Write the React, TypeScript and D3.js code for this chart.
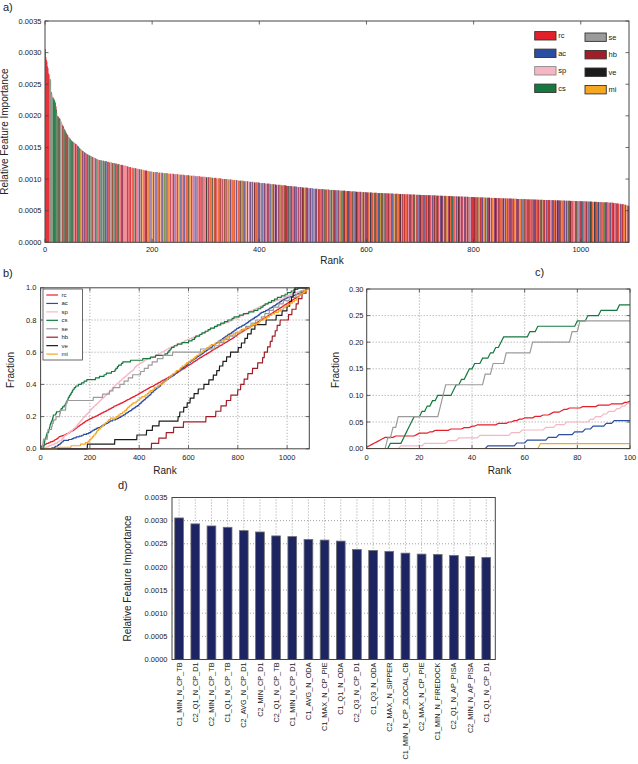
import React from "react";
import * as d3 from "d3";

// ---------------- DATA ----------------
const categories = ["rc", "ac", "sp", "cs", "se", "hb", "ve", "mi"];
const categoryCodes = ["r", "a", "s", "c", "e", "h", "v", "m"];
const categoryColors = ["#e3202a", "#2b4ea1", "#f6b7c5", "#15793f", "#9b9b9b", "#a21d27", "#1c1c1c", "#f5a623"];

// category of the feature at each rank (r=rc a=ac s=sp c=cs e=se h=hb v=ve m=mi), 10 ranks per chunk
const rankCategoryChunks = [
  "rrrrrrrrec", "erescccccr", "rcscrcrcee", "esrccscrcc", "rcrsceacec", "rccersrars", "racercmrsa", "rrsarrsrea", "ceracsasrc", "sasrascsrs",
  "rceecrsecr", "scrcasrcrs", "rcsrmcrsac", "srcrsarcrs", "rsrcrasrsr", "srsrcsrasr", "rsmrsrcsar", "srsrsarcsr", "rsmrsrsacr", "vsrmsrasrs",
  "msrasmrsar", "smraesmrsa", "rsmcrsamrs", "mrsarsmrsc", "rsamrsrasm", "rsearmsrcs", "arsmrsacrs", "rmsarsrmas", "ersamrsrcs", "rsaresrsrs",
  "rvcsarcsmr", "sacrsmrcas", "rsemrasrcs", "arsmcrsare", "srmasrarsm", "rsarmsears", "mrsarcsrma", "rsaremsras", "srsarsrams", "rvsarmrsar",
  "rasmraesra", "rmasrcarsr", "aesrmarasr", "vramsraerm", "arsramcraa", "hraevsrmar", "asrmrarcsa", "rsaremrasr", "hvramsrara", "rsamraresa",
  "rmasrcarsm", "hrasrmcrar", "scramrcsar", "mrcsaremra", "hrcsarmras", "rmarscravr", "asrmrvaram", "rsarcmrasr", "hvrasrmrar", "srmarvsraa",
  "rcarmsrvar", "mrasrcrarm", "rsavrcmrar", "csramrarsr", "vramrscrae", "rsmarcrasr", "mravrsarcm", "rhasrmrasr", "carvmsrarc", "rsmrarsara",
  "rvasrecram", "rhrasvrcar", "smrarevras", "rcharsmrar", "vrasercram", "rsarhvrmar", "carsrmeras", "rvhrasrcar", "smrarcsrar", "ermasrarrr",
  "hrvasrcram", "rshrevarsr", "marcsrhrav", "rsearmrsar", "vhrascrarm", "rsarevrsar", "hmrasrcrar", "vsrearmrsa", "rhcrasrmra", "samrcrears",
  "rhrcasrmhr", "ecrarvsrma", "rhrscrarem", "arhrsracmr", "hrasrerarc", "mrhasrvrar", "hcrasmrera", "rsharmrcar", "vrasremrsr", "arcmrsarsr",
  "vrcamrhsre", "rvmrasrcvr", "hrmsrvarcr", "mrvasrehrm", "rsamcrhrar", "mrsrearmrr", "ahrsrmrarr", "rmsrarerhr", "smrarsmrar",
];

// top 20 features (panel d) and their importances
const top20Features = [
  "C1_MIN_N_CP_TB", "C2_Q1_N_CP_D1", "C2_MIN_N_CP_TB", "C1_Q1_N_CP_TB", "C2_AVG_N_CP_D1",
  "C2_MIN_CP_D1", "C2_Q1_N_CP_TB", "C1_MIN_N_CP_D1", "C1_AVG_N_ODA", "C1_MAX_N_CP_PIE",
  "C1_Q1_N_ODA", "C2_Q3_N_CP_D1", "C1_Q3_N_ODA", "C2_MAX_N_SIPPER", "C1_MIN_N_CP_ZLOCAL_CB",
  "C2_MAX_N_CP_PIE", "C1_MIN_N_FIREDOCK", "C2_Q1_N_AP_PISA", "C2_MIN_N_AP_PISA", "C1_Q1_N_CP_D1",
];
const top20Importance = [
  0.003058, 0.00293, 0.002885, 0.002856, 0.002784, 0.002755, 0.00267, 0.002655, 0.002594, 0.00258,
  0.002558, 0.002377, 0.002355, 0.002334, 0.002298, 0.002277, 0.00227, 0.002248, 0.002227, 0.002205,
];

// importance of ranks 20..99 (units of 1e-6)
const rank20to99E6 = [
  2150, 2100, 2040, 2000, 1990, 1975, 1965, 1955, 1945, 1920,
  1900, 1880, 1860, 1840, 1830, 1810, 1790, 1770, 1750, 1730,
  1715, 1700, 1690, 1675, 1665, 1650, 1640, 1630, 1620, 1610,
  1600, 1590, 1585, 1578, 1572, 1566, 1560, 1553, 1546, 1538,
  1530, 1520, 1510, 1500, 1490, 1480, 1472, 1464, 1456, 1449,
  1442, 1436, 1430, 1424, 1418, 1412, 1406, 1400, 1395, 1390,
  1385, 1380, 1375, 1370, 1366, 1362, 1358, 1354, 1350, 1346,
  1342, 1338, 1334, 1330, 1326, 1322, 1318, 1314, 1310, 1306,
];

// importance of ranks 100..1089 as runs [value (1e-6), number of ranks]
const tailRunsE6: [number, number][] = [
  [1300, 5], [1290, 5], [1281, 5], [1272, 5], [1262, 5], [1253, 5], [1244, 5], [1234, 5], [1224, 5], [1213, 5],
  [1202, 5], [1190, 5], [1180, 5], [1171, 5], [1162, 5], [1154, 5], [1145, 5], [1136, 5], [1127, 5], [1118, 5],
  [1110, 10], [1100, 10], [1092, 10], [1084, 10], [1076, 10], [1068, 10], [1060, 10], [1052, 10], [1044, 10], [1036, 10],
  [1028, 10], [1019, 10], [1010, 10], [1001, 10], [992, 10], [983, 10], [974, 10], [965, 10], [956, 10], [946, 10],
  [936, 10], [927, 10], [918, 10], [909, 10], [900, 10], [891, 10], [882, 10], [873, 10], [864, 10], [855, 10],
  [846, 10], [840, 10], [834, 10], [828, 10], [822, 10], [816, 10], [810, 10], [804, 10], [798, 10], [792, 10],
  [787, 10], [783, 10], [779, 10], [775, 10], [771, 10], [767, 10], [763, 10], [759, 10], [755, 10], [751, 10],
  [748, 10], [744, 10], [741, 10], [737, 10], [734, 10], [730, 10], [727, 10], [723, 10], [720, 10], [716, 10],
  [712, 10], [709, 10], [705, 10], [702, 10], [699, 10], [695, 10], [692, 10], [689, 10], [685, 10], [682, 10],
  [678, 10], [675, 10], [672, 10], [669, 10], [666, 10], [663, 10], [660, 10], [657, 10], [654, 10], [651, 10],
  [648, 10], [644, 10], [640, 10], [636, 10], [632, 10], [627, 10], [620, 5], [614, 5], [608, 5], [601, 5],
  [594, 4], [586, 3], [578, 2], [568, 1],
];

const importanceTicks = [0, 0.0005, 0.001, 0.0015, 0.002, 0.0025, 0.003, 0.0035];
const rankTicksAB = [0, 200, 400, 600, 800, 1000];
const fractionTicksB = [0, 0.2, 0.4, 0.6, 0.8, 1.0];
const fractionTicksC = [0, 0.05, 0.1, 0.15, 0.2, 0.25, 0.3];
const rankTicksC = [0, 20, 40, 60, 80, 100];

// ---------------- DERIVED ----------------
const seq = rankCategoryChunks.join("");
const N = seq.length;
const catOf = (r: number) => categoryCodes.indexOf(seq[r]);
const importance: number[] = [
  ...top20Importance,
  ...rank20to99E6.map((v) => v * 1e-6),
  ...tailRunsE6.flatMap(([v, n]) => new Array(n).fill(v * 1e-6)),
];
const cumulative = categories.map((_, ci) => {
  let c = 0;
  const out: number[] = [];
  for (let r = 0; r < N; r++) {
    if (catOf(r) === ci) c++;
    out.push(c);
  }
  return out;
});
const totals = cumulative.map((a) => a[a.length - 1]);

const FONT = "'Liberation Sans', Arial, Helvetica, sans-serif";
const AX = "#444";
const GRID = "#777";

function Ticks({ x0, x1, y0, y1, xs, ys, len = 3.5 }: any) {
  return (
    <g stroke={AX} strokeWidth={0.8}>
      {xs.map((x: number, i: number) => (
        <g key={"x" + i}>
          <line x1={x} x2={x} y1={y0} y2={y0 - len} />
          <line x1={x} x2={x} y1={y1} y2={y1 + len} />
        </g>
      ))}
      {ys.map((y: number, i: number) => (
        <g key={"y" + i}>
          <line x1={x0} x2={x0 + len} y1={y} y2={y} />
          <line x1={x1} x2={x1 - len} y1={y} y2={y} />
        </g>
      ))}
    </g>
  );
}

function PanelA() {
  const x = d3.scaleLinear().domain([0, N]).range([45, 629]);
  const y = d3.scaleLinear().domain([0, 0.0035]).range([242.3, 21]);
  const legendCols = [
    [0, 1, 2, 3],
    [4, 5, 6, 7],
  ];
  return (
    <g>
      {importance.map((v, r) => (
        <rect
          key={r}
          x={x(r)}
          y={y(v)}
          width={x(r + 1) - x(r) + 0.25}
          height={y(0) - y(v)}
          fill={categoryColors[catOf(r)]}
        />
      ))}
      <Ticks x0={45} x1={629} y0={242.3} y1={21} xs={rankTicksAB.map((t) => x(t))} ys={importanceTicks.map((t) => y(t))} />
      <rect x={45} y={21} width={584} height={221.3} fill="none" stroke={AX} strokeWidth={1} />
      {importanceTicks.map((t) => (
        <text key={t} x={41.5} y={y(t)} dy="0.35em" textAnchor="end" fontSize={7.5} fill="#222">
          {d3.format(".4f")(t)}
        </text>
      ))}
      {rankTicksAB.map((t) => (
        <text key={t} x={x(t)} y={252} textAnchor="middle" fontSize={7.5} fill="#222">
          {t}
        </text>
      ))}
      <text transform="translate(8,131.6) rotate(-90)" textAnchor="middle" fontSize={10} fill="#222">
        Relative Feature Importance
      </text>
      <text x={332} y={264} textAnchor="middle" fontSize={10} fill="#222">
        Rank
      </text>
      {legendCols.map((col, k) =>
        col.map((ci, j) => {
          const px = k === 0 ? 534.7 : 585;
          const py = (k === 0 ? 31.6 : 33) + j * 17.5;
          return (
            <g key={ci}>
              <rect x={px} y={py} width={21.3} height={8.4} fill={categoryColors[ci]} stroke={ci === 2 ? "#8a8a8a" : "#333"} strokeWidth={0.9} />
              <text x={px + 23.5} y={py + 6.8} fontSize={7.5} fill="#222">
                {categories[ci]}
              </text>
            </g>
          );
        })
      )}
    </g>
  );
}

function PanelB() {
  const x = d3.scaleLinear().domain([0, N]).range([40.6, 309.3]);
  const y = d3.scaleLinear().domain([0, 1]).range([448.8, 287.8]);
  return (
    <g>
      <g stroke={GRID} strokeWidth={0.7} strokeDasharray="1,2">
        {rankTicksAB.slice(1).map((t) => (
          <line key={t} x1={x(t)} x2={x(t)} y1={y(0)} y2={y(1)} />
        ))}
        {fractionTicksB.slice(1, -1).map((t) => (
          <line key={t} x1={x(0)} x2={x(N)} y1={y(t)} y2={y(t)} />
        ))}
      </g>
      {categories.map((c, ci) => {
        const line = d3
          .line<number>()
          .x((_, r) => x(r))
          .y((cnt) => y(cnt / totals[ci]));
        return <path key={c} d={line(cumulative[ci]) || ""} fill="none" stroke={categoryColors[ci]} strokeWidth={1.2} />;
      })}
      <Ticks x0={40.6} x1={309.3} y0={448.8} y1={287.8} xs={rankTicksAB.map((t) => x(t))} ys={fractionTicksB.map((t) => y(t))} />
      <rect x={40.6} y={287.8} width={268.7} height={161} fill="none" stroke={AX} strokeWidth={1} />
      {fractionTicksB.map((t) => (
        <text key={t} x={36.5} y={y(t)} dy="0.35em" textAnchor="end" fontSize={7.5} fill="#222">
          {d3.format(".1f")(t)}
        </text>
      ))}
      {rankTicksAB.map((t) => (
        <text key={t} x={x(t)} y={459.5} textAnchor="middle" fontSize={7.5} fill="#222">
          {t}
        </text>
      ))}
      <text transform="translate(13.5,370) rotate(-90)" textAnchor="middle" fontSize={10} fill="#222">
        Fraction
      </text>
      <text x={165} y={474} textAnchor="middle" fontSize={10} fill="#222">
        Rank
      </text>
      <rect x={43} y={289} width={39.5} height={71} fill="#fff" stroke={AX} strokeWidth={0.8} />
      {categories.map((c, ci) => {
        const cy = 295 + ci * 8.44;
        return (
          <g key={c}>
            <line x1={46.3} x2={58} y1={cy} y2={cy} stroke={categoryColors[ci]} strokeWidth={1.2} />
            <text x={61.5} y={cy + 2} fontSize={6} fill="#222">
              {c}
            </text>
          </g>
        );
      })}
    </g>
  );
}

function PanelC() {
  const x = d3.scaleLinear().domain([0, 100]).range([366.7, 630]);
  const y = d3.scaleLinear().domain([0, 0.3]).range([448.6, 289]);
  const ranks = d3.range(0, 101);
  return (
    <g>
      <defs>
        <clipPath id="clipC">
          <rect x={366.7} y={289} width={263.3} height={159.6} />
        </clipPath>
      </defs>
      <g stroke={GRID} strokeWidth={0.7} strokeDasharray="1,2">
        {rankTicksC.slice(1, -1).map((t) => (
          <line key={t} x1={x(t)} x2={x(t)} y1={y(0)} y2={y(0.3)} />
        ))}
        {fractionTicksC.slice(1, -1).map((t) => (
          <line key={t} x1={x(0)} x2={x(100)} y1={y(t)} y2={y(t)} />
        ))}
      </g>
      <g clipPath="url(#clipC)">
        {categories.map((c, ci) => {
          const line = d3
            .line<number>()
            .x((r) => x(r))
            .y((r) => y(cumulative[ci][r] / totals[ci]));
          return <path key={c} d={line(ranks) || ""} fill="none" stroke={categoryColors[ci]} strokeWidth={1.2} />;
        })}
      </g>
      <Ticks x0={366.7} x1={630} y0={448.6} y1={289} xs={rankTicksC.map((t) => x(t))} ys={fractionTicksC.map((t) => y(t))} />
      <rect x={366.7} y={289} width={263.3} height={159.6} fill="none" stroke={AX} strokeWidth={1} />
      {fractionTicksC.map((t) => (
        <text key={t} x={363.5} y={y(t)} dy="0.35em" textAnchor="end" fontSize={7.5} fill="#222">
          {d3.format(".2f")(t)}
        </text>
      ))}
      {rankTicksC.map((t) => (
        <text key={t} x={x(t)} y={459.5} textAnchor="middle" fontSize={7.5} fill="#222">
          {t}
        </text>
      ))}
      <text transform="translate(339,370) rotate(-90)" textAnchor="middle" fontSize={10} fill="#222">
        Fraction
      </text>
      <text x={499.5} y={474} textAnchor="middle" fontSize={10} fill="#222">
        Rank
      </text>
    </g>
  );
}

function PanelD() {
  const x = d3.scaleLinear().domain([0, top20Features.length]).range([172, 495.3]);
  const y = d3.scaleLinear().domain([0, 0.0035]).range([659.5, 497.5]);
  const off = 0.17;
  const bw = 0.54;
  return (
    <g>
      <g stroke={GRID} strokeWidth={0.7} strokeDasharray="1,2">
        {top20Features.map((f, i) => (
          <line key={f} x1={x(i + off + bw / 2)} x2={x(i + off + bw / 2)} y1={y(0)} y2={y(0.0035)} />
        ))}
        {importanceTicks.slice(1, -1).map((t) => (
          <line key={t} x1={x(0)} x2={x(20)} y1={y(t)} y2={y(t)} />
        ))}
      </g>
      {top20Importance.map((v, i) => (
        <rect
          key={i}
          x={x(i + off)}
          y={y(v)}
          width={x(i + off + bw) - x(i + off)}
          height={y(0) - y(v)}
          fill="#1c2462"
          stroke="#707070"
          strokeWidth={0.8}
        />
      ))}
      <rect x={172} y={497.5} width={323.3} height={162} fill="none" stroke={AX} strokeWidth={1} />
      {importanceTicks.map((t) => (
        <text key={t} x={167.5} y={y(t)} dy="0.35em" textAnchor="end" fontSize={7.5} fill="#222">
          {d3.format(".4f")(t)}
        </text>
      ))}
      {top20Features.map((f, i) => (
        <text
          key={f}
          transform={`translate(${x(i + off + bw / 2)},662.5) rotate(-90)`}
          dy="0.35em"
          textAnchor="end"
          fontSize={7.3}
          fill="#222"
        >
          {f}
        </text>
      ))}
      <text transform="translate(130.5,578.5) rotate(-90)" textAnchor="middle" fontSize={10} fill="#222">
        Relative Feature Importance
      </text>
    </g>
  );
}

export default function App() {
  return (
    <svg
      width={638}
      height={764}
      viewBox="0 0 638 764"
      style={{ position: "absolute", left: 0, top: 0, background: "#fff" }}
      fontFamily={FONT}
    >
      <rect x={0} y={0} width={638} height={764} fill="#fff" />
      <PanelA />
      <PanelB />
      <PanelC />
      <PanelD />
      <text x={3} y={11} fontSize={11} fill="#222">a)</text>
      <text x={3} y={277} fontSize={11} fill="#222">b)</text>
      <text x={535} y={276} fontSize={11} fill="#222">c)</text>
      <text x={118} y={489} fontSize={11} fill="#222">d)</text>
    </svg>
  );
}
